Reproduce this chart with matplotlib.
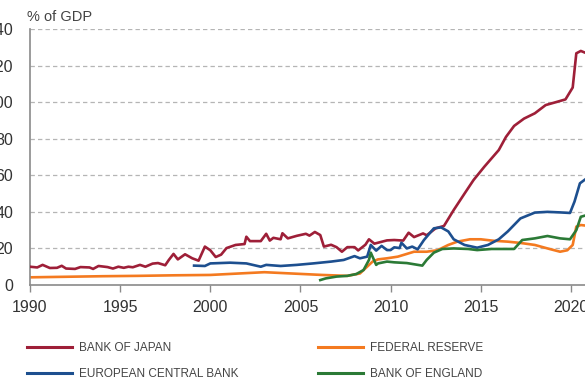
import matplotlib
matplotlib.use("Agg")
import matplotlib.pyplot as plt

plt.rcParams['font.family'] = ['Liberation Sans', 'DejaVu Sans']

# balance sheets, % of GDP
boj_year = [1990, 1990.4, 1990.7, 1991.1, 1991.5, 1991.76, 1992, 1992.5, 1992.8, 1993.3,
            1993.5, 1993.8, 1994.3, 1994.6, 1994.9, 1995.2, 1995.46, 1995.7, 1996.1, 1996.4,
            1996.8, 1997.1, 1997.5, 1997.7, 1997.96, 1998.2, 1998.6, 1999.0, 1999.35, 1999.7,
            2000.0, 2000.3, 2000.6, 2000.9, 2001.4, 2001.9, 2002.0, 2002.2, 2002.8, 2003.1,
            2003.3, 2003.5, 2003.9, 2004.0, 2004.3, 2004.8, 2005.3, 2005.5, 2005.8, 2006.1,
            2006.3, 2006.7, 2007.0, 2007.3, 2007.6, 2008.0, 2008.2, 2008.6, 2008.8, 2009.1,
            2009.8, 2010.2, 2010.7, 2011.0, 2011.3, 2011.8, 2012.0, 2012.5, 2012.96, 2013.5,
            2014.1, 2014.6, 2015.2, 2016.0, 2016.4, 2016.85, 2017.4, 2018.0, 2018.6, 2019.1,
            2019.7, 2020.1, 2020.3, 2020.55, 2020.8]
boj_val = [10, 9.6, 11, 9.3, 9.4, 10.5, 9, 8.8, 9.8, 9.6,
           8.8, 10.4, 9.8, 9, 10, 9.4, 10, 9.7, 11, 10,
           11.7, 12, 10.8, 13.7, 17, 14, 16.8, 14.6, 13.3, 21,
           19, 15.3, 16.6, 20.2, 21.9, 22.4, 26.4, 24, 24, 28,
           24.3, 25.8, 25, 28.3, 25.5, 26.9, 28, 27, 29, 27.3,
           21, 22, 20.7, 18.2, 20.7, 20.7, 18.9, 22, 25, 22.6,
           24.4, 24.6, 24.3, 28.6, 26.2, 28.2, 27.2, 31, 32.3, 41,
           50, 57.4, 64.7, 73.8, 81, 87, 91, 93.9, 98.4, 99.8,
           101.5, 108, 126.7, 128, 127]

fed_year = [1990, 1992, 1994, 1996, 1998, 2000, 2003, 2006.2, 2007.6, 2008.3,
            2008.6, 2009.0, 2009.3, 2009.8, 2010.4, 2011.3, 2012.0, 2012.6, 2013.2, 2013.7,
            2014.4, 2015.0, 2015.7, 2016.5, 2017.2, 2018.0, 2018.7, 2019.4, 2019.8, 2020.1,
            2020.3, 2020.55, 2020.8]
fed_val = [4.2, 4.5, 4.8, 5.0, 5.3, 5.5, 7, 5.5, 5, 6.3,
           9.1, 12.8, 14, 14.6, 15.5, 18.2, 18.2, 19, 21.9, 23.7,
           25, 25, 24.2, 23.7, 23, 21.9, 20, 18.2, 19, 21.9,
           31.9, 32.8, 32.5]

ecb_year = [1999.1, 1999.7, 2000.0, 2001.1, 2002.0, 2002.8, 2003.1, 2003.9, 2004.8, 2005.7,
            2006.7, 2007.4, 2008.0, 2008.3, 2008.7, 2008.9, 2009.2, 2009.5, 2009.8, 2010.0,
            2010.2, 2010.5, 2010.6, 2010.9, 2011.2, 2011.5, 2011.85, 2012.4, 2012.8, 2013.2,
            2013.5, 2014.1, 2014.8, 2015.4, 2016.0, 2016.5, 2017.2, 2018.0, 2018.7, 2019.4,
            2019.95, 2020.2, 2020.5, 2020.8]
ecb_val = [10.6, 10.4, 11.8, 12.2, 11.8, 10, 11, 10.4, 11, 11.8,
           12.8, 13.7, 15.8, 14.6, 15.5, 21.9, 18.8, 21.4, 19.1, 19.1,
           20.6, 20.2, 23.1, 20, 21, 19.5, 24.6, 31, 31.5, 29.3,
           25, 21.9, 20.4, 21.9, 25, 29.3, 36.4, 39.6, 40, 39.7,
           39.4, 45.6, 55.6, 57.8]

boe_year = [2006.1, 2006.4, 2007.0, 2007.6, 2008.1, 2008.5, 2008.8, 2008.9, 2009.2, 2009.3,
            2009.8, 2010.2, 2010.9, 2011.76, 2012.0, 2012.4, 2012.87, 2013.5, 2014.3, 2014.8,
            2015.6, 2016.85, 2017.3, 2018.0, 2018.7, 2019.4, 2019.95, 2020.3, 2020.55, 2020.8]
boe_val = [2.7, 3.6, 4.6, 5, 6, 8.2, 13.7, 17.7, 11, 11.8,
           12.8, 12.4, 12, 10.6, 13.7, 17.7, 19.7, 20, 19.7, 19.1,
           19.7, 19.7, 24.6, 25.5, 26.8, 25.5, 25, 30, 37.3, 38]

names = ['BANK OF JAPAN', 'EUROPEAN CENTRAL BANK', 'FEDERAL RESERVE', 'BANK OF ENGLAND']
colors = ['#9e1f38', '#1d4f8f', '#f47a20', '#2b7a36']

fig = plt.figure(figsize=(5.85, 3.9), dpi=100)
W, H = 585.0, 390.0
ax = fig.add_axes([30 / W, 1 - 285 / H, 31.1 * 18.03 / W, 256 / H])

l1, = ax.plot(boj_year, boj_val, color=colors[0], lw=1.9, zorder=3)
l2, = ax.plot(ecb_year, ecb_val, color=colors[1], lw=1.9, zorder=3)
l3, = ax.plot(fed_year, fed_val, color=colors[2], lw=1.9, zorder=2)
l4, = ax.plot(boe_year, boe_val, color=colors[3], lw=1.9, zorder=3)

ax.set_xlim(1990, 2021.1)
ax.set_ylim(0, 140)
ax.set_xticks(range(1990, 2021, 5))
ax.set_yticks(range(0, 141, 20))
for y in range(20, 141, 20):
    ax.axhline(y, color='#b5b5b5', lw=0.9, ls=(0, (3.5, 2.5)), zorder=1)

for s in ['top', 'right']:
    ax.spines[s].set_visible(False)
for s in ['left', 'bottom']:
    ax.spines[s].set_color('#8a8a8a')
    ax.spines[s].set_linewidth(1.2)
ax.tick_params(axis='y', length=0, pad=12, labelsize=11.5, labelcolor='#333333')
ax.tick_params(axis='x', length=5, width=1, color='#8a8a8a', pad=6,
               labelsize=11.5, labelcolor='#333333')

fig.text(27 / W, 1 - 21 / H, '% of GDP', fontsize=10.5, color='#444444')

# two legend columns
leg_kw = dict(loc='upper left', frameon=False, handlelength=3.8, handletextpad=0.6,
              labelspacing=1.2, borderpad=0, borderaxespad=0,
              prop={'family': ['Liberation Sans Narrow', 'Liberation Sans'], 'size': 8.5})
legs = [fig.legend([l1, l2], names[:2], bbox_to_anchor=(27 / W, 1 - 342 / H), **leg_kw),
        fig.legend([l3, l4], names[2:], bbox_to_anchor=(318 / W, 1 - 342 / H), **leg_kw)]
for leg in legs:
    for t in leg.get_texts():
        t.set_color('#444444')
    for l in leg.get_lines():
        l.set_linewidth(2.2)

fig.savefig('out.png', dpi=100)
